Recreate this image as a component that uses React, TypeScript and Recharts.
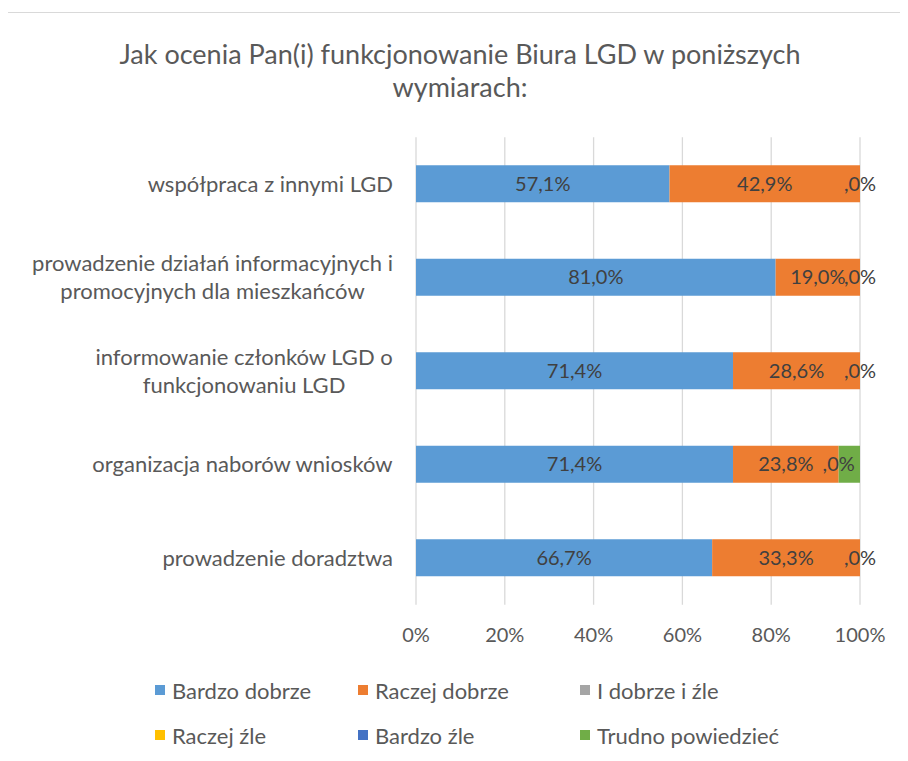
import { BarChart, Bar, XAxis, YAxis, CartesianGrid, LabelList } from 'recharts';

// Categories (top to bottom) and multi-line tick labels
const categories = [
  'współpraca z innymi LGD',
  'prowadzenie działań informacyjnych i promocyjnych dla mieszkańców',
  'informowanie członków LGD o funkcjonowaniu LGD',
  'organizacja naborów wniosków',
  'prowadzenie doradztwa',
];
const categoryLines = [
  ['współpraca z innymi LGD'],
  ['prowadzenie działań informacyjnych i', 'promocyjnych dla mieszkańców'],
  ['informowanie członków LGD o', 'funkcjonowaniu LGD'],
  ['organizacja naborów wniosków'],
  ['prowadzenie doradztwa'],
];

// Series values (%)
const bardzoDobrze = [57.1, 81.0, 71.4, 71.4, 66.7];
const raczejDobrze = [42.9, 19.0, 28.6, 23.8, 33.3];
const iDobrzeIZle = [0, 0, 0, 0, 0];
const raczejZle = [0, 0, 0, 0, 0];
const bardzoZle = [0, 0, 0, 0, 0];
const trudnoPowiedziec = [0, 0, 0, 4.8, 0];

const seriesNames = ['Bardzo dobrze', 'Raczej dobrze', 'I dobrze i źle', 'Raczej źle', 'Bardzo źle', 'Trudno powiedzieć'];
const seriesKeys = ['s0', 's1', 's2', 's3', 's4', 's5'];
const seriesColors = ['#5B9BD5', '#ED7D31', '#A5A5A5', '#FFC000', '#4472C4', '#70AD47'];
const seriesValues = [bardzoDobrze, raczejDobrze, iDobrzeIZle, raczejZle, bardzoZle, trudnoPowiedziec];

const xTicks = [0, 20, 40, 60, 80, 100];

const FONT = 'Lato, "Open Sans", sans-serif';
const TEXT_SIZE = 22;
const NUM_SIZE = 20;

const data = categories.map((name, i) => {
  const row: Record<string, string | number> = { name, idx: i };
  seriesKeys.forEach((k, s) => {
    row[k] = seriesValues[s][i];
  });
  return row;
});

// Polish style percent: 57,1% ; zero shows as ",0%"
const fmtPct = (v: number) => {
  if (v === 0) return ',0%';
  return v.toFixed(1).replace('.', ',') + '%';
};

let measureCtx: CanvasRenderingContext2D | null = null;
function textWidth(t: string) {
  if (!measureCtx) measureCtx = document.createElement('canvas').getContext('2d');
  if (!measureCtx) return t.length * 10;
  measureCtx.font = `${TEXT_SIZE}px Lato`;
  return measureCtx.measureText(t).width;
}

function CategoryTick(props: any) {
  const { y, payload } = props;
  const lines = categoryLines[payload.index] || [payload.value];
  const rightX = 387;
  const maxW = Math.max(...lines.map(textWidth));
  const cx = rightX - maxW / 2;
  const lh = 28;
  const startY = y - ((lines.length - 1) * lh) / 2;
  return (
    <g>
      {lines.map((l, i) => (
        <text
          key={i}
          x={cx}
          y={startY + i * lh}
          dy="0.35em"
          textAnchor="middle"
          fill="#595959"
          fontSize={TEXT_SIZE}
          fontFamily={FONT}
        >
          {l}
        </text>
      ))}
    </g>
  );
}

// Excel shows the ",0%" labels of the empty series where they sit in the stack:
// right after the "Raczej dobrze" segment.
function ZeroLabels(props: any) {
  const vb = props.viewBox || props;
  const x = Number(vb.x ?? props.x);
  const y = Number(vb.y ?? props.y);
  const w = Number(vb.width ?? props.width);
  const h = Number(vb.height ?? props.height);
  const i = props.index;
  if (i == null || Number.isNaN(x)) return null;
  const hasZero = [iDobrzeIZle, raczejZle, bardzoZle, trudnoPowiedziec].some((arr) => arr[i] === 0);
  if (!hasZero) return null;
  return (
    <text x={x + w} y={y + h / 2} dy="0.35em" textAnchor="middle" fill="#404040" fontSize={NUM_SIZE} fontFamily={FONT}>
      {fmtPct(0)}
    </text>
  );
}

export default function App() {
  return (
    <div
      style={{
        position: 'relative',
        marginLeft: -3,
        marginTop: 4,
        width: 895,
        height: 740,
        borderLeft: '1px solid #d9d9d9',
        borderTop: '1px solid #d9d9d9',
        fontFamily: FONT,
      }}
    >
      <div
        style={{
          position: 'absolute',
          left: 54,
          top: 24,
          width: 800,
          textAlign: 'center',
          fontSize: 27,
          lineHeight: '33px',
          color: '#595959',
        }}
      >
        Jak ocenia Pan(i) funkcjonowanie Biura LGD w poniższych
        <br />
        wymiarach:
      </div>

      <div style={{ position: 'absolute', left: 0, top: 0 }}>
        <BarChart
          width={880}
          height={740}
          data={data}
          layout="vertical"
          margin={{ top: 124.25, right: 26, bottom: 118.25, left: 10 }}
          barSize={37}
        >
          <CartesianGrid horizontal={false} stroke="#d9d9d9" strokeWidth={1.3} />
          <XAxis
            type="number"
            domain={[0, 100]}
            ticks={xTicks}
            tickFormatter={(v: number) => `${v}%`}
            axisLine={false}
            tickLine={false}
            tickSize={0}
            tickMargin={23}
            height={30}
            tick={{ fill: '#595959', fontSize: NUM_SIZE, fontFamily: FONT }}
          />
          <YAxis
            type="category"
            dataKey="name"
            width={400}
            axisLine={false}
            tickLine={false}
            interval={0}
            tick={<CategoryTick />}
          />
          {seriesKeys.map((k, s) => (
            <Bar key={k} dataKey={k} name={seriesNames[s]} stackId="a" fill={seriesColors[s]} isAnimationActive={false}>
              {s < 2 && (
                <LabelList
                  dataKey={k}
                  position="center"
                  fill="#404040"
                  fontSize={NUM_SIZE}
                  fontFamily={FONT}
                  formatter={(v: any) => fmtPct(Number(v))}
                />
              )}
              {s === 1 && <LabelList dataKey={k} content={<ZeroLabels />} />}
            </Bar>
          ))}
        </BarChart>
      </div>

      {seriesNames.map((n, s) => {
        const col = s % 3;
        const row = Math.floor(s / 3);
        const left = [149, 352, 574][col];
        const top = [677, 722][row];
        return (
          <div
            key={n}
            style={{
              position: 'absolute',
              left,
              top: top - 15,
              height: 30,
              display: 'flex',
              alignItems: 'center',
              whiteSpace: 'nowrap',
              fontSize: TEXT_SIZE,
              color: '#595959',
            }}
          >
            <span style={{ display: 'inline-block', width: 10, height: 10, background: seriesColors[s], marginRight: 7 }} />
            {n}
          </div>
        );
      })}
    </div>
  );
}
